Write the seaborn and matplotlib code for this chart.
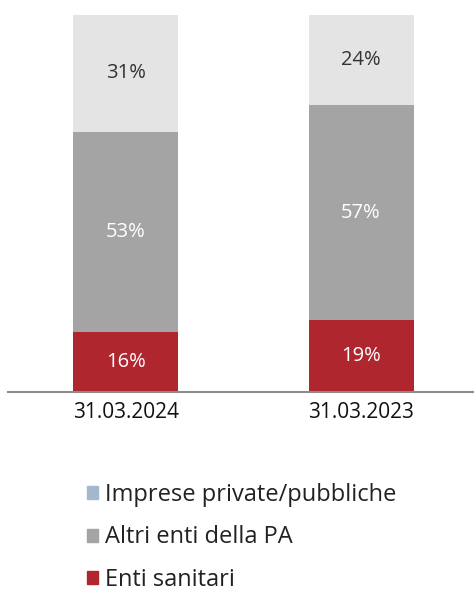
import matplotlib
matplotlib.use("Agg")
import matplotlib.pyplot as plt
from matplotlib.patches import Patch
import seaborn as sns
import pandas as pd

categories = ["31.03.2024", "31.03.2023"]
enti_sanitari = [16, 19]
altri_enti_pa = [53, 57]
imprese = [31, 24]
series_labels = ["Imprese private/pubbliche", "Altri enti della PA", "Enti sanitari"]

sns.set_theme(style="white")
plt.rcParams['font.family'] = ['Open Sans', 'DejaVu Sans']

col_red = "#b0262f"
col_gray = "#a4a4a4"
col_light = "#e4e4e4"
col_legend_top = "#a3b8cc"

df = pd.DataFrame({"cat": categories, "es": enti_sanitari, "pa": altri_enti_pa, "imp": imprese})
df["b2"] = df["es"]
df["b3"] = df["es"] + df["pa"]

fig = plt.figure(figsize=(4.74, 5.93), dpi=100)
ax = fig.add_axes([8/474, 1-392/593, 466/474, (392-15)/593])

w = 0.446
sns.barplot(data=df, x="cat", y="es", color=col_red, width=w, ax=ax, saturation=1, linewidth=0)
sns.barplot(data=df, x="cat", y="pa", bottom=df["b2"], color=col_gray, width=w, ax=ax, saturation=1, linewidth=0)
sns.barplot(data=df, x="cat", y="imp", bottom=df["b3"], color=col_light, width=w, ax=ax, saturation=1, linewidth=0)

for i in range(len(categories)):
    ax.text(i, enti_sanitari[i] / 2, f"{enti_sanitari[i]}%", ha="center", va="center", color="white", fontsize=14.5)
    ax.text(i, enti_sanitari[i] + altri_enti_pa[i] / 2, f"{altri_enti_pa[i]}%", ha="center", va="center", color="white", fontsize=14.5)
    ax.text(i, enti_sanitari[i] + altri_enti_pa[i] + imprese[i] / 2, f"{imprese[i]}%", ha="center", va="center", color="#333333", fontsize=14.5)

ax.set_xlim(-0.5, 1.48)
ax.set_ylim(0, 100)
ax.set_xlabel("")
ax.set_ylabel("")
ax.set_yticks([])
for s in ["top", "right", "left"]:
    ax.spines[s].set_visible(False)
ax.spines["bottom"].set_color("#8c8c8c")
ax.spines["bottom"].set_linewidth(1.5)
ax.tick_params(axis="x", length=0, pad=7, labelsize=15, labelcolor="#111111")

handles = [Patch(color=col_legend_top), Patch(color=col_gray), Patch(color=col_red)]
fig.legend(handles, series_labels, loc="upper left", bbox_to_anchor=(87/474, 1-483/593),
           frameon=False, fontsize=17, handlelength=0.47, handleheight=0.47,
           handletextpad=0.3, labelspacing=0.78, borderaxespad=0, borderpad=0,
           labelcolor="#222222")

fig.savefig("out.png", dpi=100)
